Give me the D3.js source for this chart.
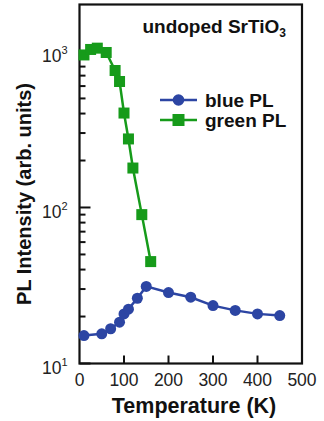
<!DOCTYPE html>
<html>
<head>
<meta charset="utf-8">
<script src="https://cdn.jsdelivr.net/npm/d3@7"></script>
<style>
  body { margin: 0; background: #fff; }
  svg text { font-family: "Liberation Sans", Arial, sans-serif; }
</style>
</head>
<body>
<div id="chart"></div>
<script>
//data
var blueTemp = [10, 50, 70, 90, 100, 110, 130, 150, 200, 250, 300, 350, 400, 450],
    blueVal = [15.1, 15.5, 16.7, 18.4, 20.8, 22.3, 26.2, 31.2, 28.5, 26.6, 23.5, 21.9, 20.8, 20.3];

var greenTemp = [10, 25, 40, 60, 80, 90, 100, 110, 120, 140, 160],
    greenVal = [950, 1030, 1050, 985, 755, 642, 403, 275, 179, 90, 45];

var xTicks = [0, 100, 200, 300, 400, 500],
    yMajor = [10, 100, 1000],
    legendNames = ['blue PL', 'green PL'];

var blueColor = '#2c45a3',
    greenColor = '#169b1a';

//sizes
var outerW = 324,
    outerH = 421,
    margin = {left: 79.5, right: 22, top: 4.5, bottom: 57.5},
    w = outerW - margin.left - margin.right,
    h = outerH - margin.top - margin.bottom;

var svg = d3.select('#chart').append('svg')
    .attr('width', outerW)
    .attr('height', outerH);

var g = svg.append('g')
    .attr('transform', 'translate(' + margin.left + ', ' + margin.top + ')');

//scales
var xScale = d3.scaleLinear().domain([0, 500]).range([0, w]),
    yScale = d3.scaleLog().domain([10, 2000]).range([h, 0]);

//frame
g.append('rect')
    .attr('x', 0).attr('y', 0)
    .attr('width', w).attr('height', h)
    .attr('fill', 'none')
    .attr('stroke', '#111')
    .attr('stroke-width', 2.2);

//x ticks (inward)
g.selectAll('.x-tick')
    .data(xTicks.slice(1, -1))
    .enter()
    .append('line')
    .attr('class', 'x-tick')
    .attr('x1', function(d) { return xScale(d); })
    .attr('x2', function(d) { return xScale(d); })
    .attr('y1', h)
    .attr('y2', h - 8)
    .attr('stroke', '#111')
    .attr('stroke-width', 2);

g.selectAll('.x-label')
    .data(xTicks)
    .enter()
    .append('text')
    .attr('class', 'x-label')
    .attr('x', function(d) { return xScale(d); })
    .attr('y', h + 22)
    .attr('text-anchor', 'middle')
    .attr('font-size', 17.5)
    .attr('fill', '#222')
    .text(function(d) { return d; });

//y ticks (inward), log minor ticks
var yTickVals = yScale.ticks().filter(function(d) { return d < 2000; });

g.selectAll('.y-tick')
    .data(yTickVals)
    .enter()
    .append('line')
    .attr('class', 'y-tick')
    .attr('x1', 0)
    .attr('x2', function(d) { return yMajor.indexOf(d) >= 0 ? 11 : 6; })
    .attr('y1', function(d) { return yScale(d); })
    .attr('y2', function(d) { return yScale(d); })
    .attr('stroke', '#111')
    .attr('stroke-width', 2);

var yLabels = g.selectAll('.y-label')
    .data(yMajor)
    .enter()
    .append('text')
    .attr('class', 'y-label')
    .attr('x', -12)
    .attr('y', function(d) { return yScale(d) + 10.5; })
    .attr('text-anchor', 'end')
    .attr('font-size', 17.5)
    .attr('fill', '#222');

yLabels.append('tspan').text('10');
yLabels.append('tspan')
    .attr('font-size', 11)
    .attr('dy', -8)
    .text(function(d) { return Math.round(Math.log10(d)); });

//green series
var line = d3.line()
    .x(function(d) { return xScale(d[0]); })
    .y(function(d) { return yScale(d[1]); });

var greenData = greenTemp.map(function(t, i) { return [t, greenVal[i]]; }),
    blueData = blueTemp.map(function(t, i) { return [t, blueVal[i]]; });

g.append('path')
    .datum(greenData)
    .attr('d', line)
    .attr('fill', 'none')
    .attr('stroke', greenColor)
    .attr('stroke-width', 2.5);

g.selectAll('.green-sq')
    .data(greenData)
    .enter()
    .append('rect')
    .attr('class', 'green-sq')
    .attr('x', function(d) { return xScale(d[0]) - 5.5; })
    .attr('y', function(d) { return yScale(d[1]) - 5.5; })
    .attr('width', 11)
    .attr('height', 11)
    .attr('fill', greenColor);

//blue series
g.append('path')
    .datum(blueData)
    .attr('d', line)
    .attr('fill', 'none')
    .attr('stroke', blueColor)
    .attr('stroke-width', 2.5);

g.selectAll('.blue-dot')
    .data(blueData)
    .enter()
    .append('circle')
    .attr('class', 'blue-dot')
    .attr('cx', function(d) { return xScale(d[0]); })
    .attr('cy', function(d) { return yScale(d[1]); })
    .attr('r', 5.5)
    .attr('fill', blueColor);

//legend
var legend = svg.append('g');
var legendColors = [blueColor, greenColor];

legendNames.forEach(function(name, i) {
    var ly = 100 + i * 20;
    legend.append('line')
        .attr('x1', 160).attr('x2', 197)
        .attr('y1', ly).attr('y2', ly)
        .attr('stroke', legendColors[i])
        .attr('stroke-width', 2.5);
    if (i == 0) {
        legend.append('circle')
            .attr('cx', 178.5).attr('cy', ly).attr('r', 5.8)
            .attr('fill', legendColors[i]);
    } else {
        legend.append('rect')
            .attr('x', 172.5).attr('y', ly - 6)
            .attr('width', 12).attr('height', 12)
            .attr('fill', legendColors[i]);
    }
    legend.append('text')
        .attr('x', 205)
        .attr('y', ly + 6.5)
        .attr('font-size', 19)
        .attr('font-weight', 'bold')
        .attr('fill', '#111')
        .text(name);
});

//title
var title = svg.append('text')
    .attr('x', 286)
    .attr('y', 33)
    .attr('text-anchor', 'end')
    .attr('font-size', 19)
    .attr('font-weight', 'bold')
    .attr('fill', '#111');
title.append('tspan').text('undoped SrTiO');
title.append('tspan').attr('font-size', 12).attr('dy', 4).text('3');

//axis titles
svg.append('text')
    .attr('x', 194)
    .attr('y', 413)
    .attr('text-anchor', 'middle')
    .attr('font-size', 21.5)
    .attr('font-weight', 'bold')
    .attr('fill', '#111')
    .text('Temperature (K)');

svg.append('text')
    .attr('transform', 'translate(31, 194) rotate(-90)')
    .attr('text-anchor', 'middle')
    .attr('font-size', 20)
    .attr('font-weight', 'bold')
    .attr('fill', '#111')
    .text('PL Intensity (arb. units)');
</script>
</body>
</html>
